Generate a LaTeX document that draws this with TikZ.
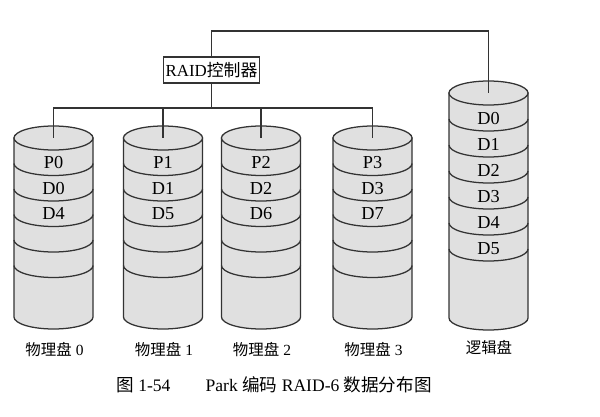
\documentclass[tikz,border=0pt]{standalone}
\usepackage{fontspec}
\setmainfont{Liberation Serif}
\newfontfamily\cjk{Noto Sans CJK SC}
\usepackage{xcolor}
\usepackage{tikz}

\tikzset{
  diskline/.style={draw=black!80, line width=0.9pt},
  diskfill/.style={fill=black!12},
  wire/.style={draw=black!80, line width=0.8pt},
  blocklabel/.style={font=\fontsize{13}{15}\selectfont, inner sep=0pt},
  namelabel/.style={font=\fontsize{11}{13}\selectfont, inner sep=0pt},
}

\begin{document}
\begin{tikzpicture}[x=0.025cm, y=0.025cm]
        \useasboundingbox (0,0) rectangle (600,416);

        % Controller
        \node[rectangle, draw=black!80, line width=0.8pt, fill=white, minimum width=2.42cm, minimum height=0.65cm, inner sep=1pt, font=\fontsize{12}{14}\selectfont] (ctrl) at (211.5,346) {RAID{\cjk 控制器}};
        \coordinate (bus) at (211.5,308);
        \coordinate (up) at (211.5,385);

        % Physical disks
        \foreach \cx/\i/\a/\b/\c in {53.5/0/P0/D0/D4, 163/1/P1/D1/D5, 261/2/P2/D2/D6, 372.5/3/P3/D3/D7} {
            \path[diskfill, diskline] (\cx-39.5,278) -- (\cx-39.5,99) arc[start angle=180, end angle=360, x radius=0.9875cm, y radius=0.3cm] -- (\cx+39.5,278) -- cycle;
            \path[diskfill, diskline] (\cx,278) ellipse[x radius=0.9875cm, y radius=0.3cm];
            \foreach \k in {1,...,5}
                \draw[diskline] (\cx-39.5,278-25.5*\k) arc[start angle=180, end angle=360, x radius=0.9875cm, y radius=0.3cm];
            \coordinate (disk\i) at (\cx,278);
            \node[blocklabel] (lab\i-1) at (\cx,253.25) {\a};
            \node[blocklabel] (lab\i-2) at (\cx,227.75) {\b};
            \node[blocklabel] (lab\i-3) at (\cx,202.25) {\c};
            \node[namelabel] (name\i) at (\cx+1,66) {{\cjk 物理盘} \i};
        }

        % Logical disk
        \path[diskfill, diskline] (449,323) -- (449,98) arc[start angle=180, end angle=360, x radius=0.9875cm, y radius=0.3cm] -- (528,323) -- cycle;
        \path[diskfill, diskline] (488.5,323) ellipse[x radius=0.9875cm, y radius=0.3cm];
        \foreach \k in {0,...,5} {
            \draw[diskline] (449,297-26*\k) arc[start angle=180, end angle=360, x radius=0.9875cm, y radius=0.3cm];
            \node[blocklabel] (llab\k) at (488.5,297.5-26*\k) {D\k};
        }
        \coordinate (logic) at (488.5,323);
        \node[namelabel] (lname) at (489,68) {\cjk 逻辑盘};

        % Wires
        \draw[wire] (ctrl.south) -- (bus);
        \foreach \i in {0,...,3}
            \draw[wire] (bus) -| (disk\i);
        \draw[wire] (ctrl.north) -- (up) -| (logic);

        % Caption
        \node[font=\fontsize{12.5}{15}\selectfont, inner sep=0pt] (caption) at (274,31) {{\cjk 图} 1-54\hspace{2em}Park {\cjk 编码} RAID-6 {\cjk 数据分布图}};
    \end{tikzpicture}
\end{document}
